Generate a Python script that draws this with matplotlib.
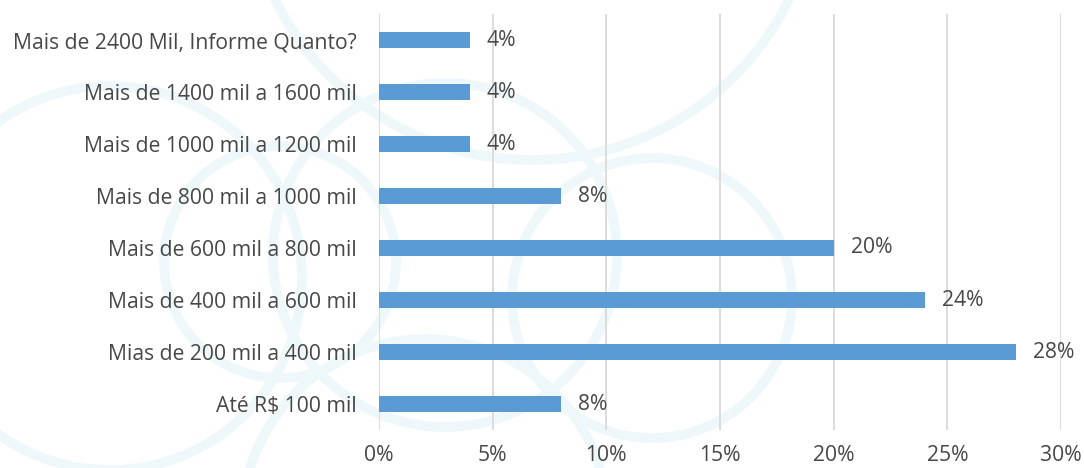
import numpy as np
import matplotlib.pyplot as plt
from matplotlib.patches import Circle

categorias = ["Até R$ 100 mil",
              "Mias de 200 mil a 400 mil",
              "Mais de 400 mil a 600 mil",
              "Mais de 600 mil a 800 mil",
              "Mais de 800 mil a 1000 mil",
              "Mais de 1000 mil a 1200 mil",
              "Mais de 1400 mil a 1600 mil",
              "Mais de 2400 Mil, Informe Quanto?"]
percentuais = [8, 28, 24, 20, 8, 4, 4, 4]
ticks_x = [0, 5, 10, 15, 20, 25, 30]

cor_barra = "#5B9BD5"
cor_texto = "#474747"
cor_grade = "#D9D9D9"
tamanho = 15.2

plt.rcParams['font.family'] = ['Open Sans', 'DejaVu Sans']

fig = plt.figure(figsize=(10.84, 4.68), dpi=100)

# marca d'agua: circulos claros ao fundo (coordenadas em pixels)
fundo = fig.add_axes([0, 0, 1, 1], zorder=0)
fundo.set_xlim(0, 1084)
fundo.set_ylim(468, 0)
fundo.axis("off")
circulos = [(280, 262, 116), (652, 298, 140), (532, -126, 286),
            (110, 278, 192), (425, 522, 183), (445, 255, 172)]
for cx, cy, r in circulos:
    fundo.add_patch(Circle((cx, cy), r, fill=False, lw=7, ec="#EEF8FB"))

ax = fig.add_axes([379 / 1084, 1 - 430 / 468, 682 / 1084, 416 / 468], zorder=1)
ax.patch.set_alpha(0)

y = np.arange(len(categorias))
ax.barh(y, percentuais, height=0.31, color=cor_barra, zorder=3)

for yi, v in zip(y, percentuais):
    ax.text(v + 0.75, yi, f"{v}%", va="center", ha="left", fontsize=tamanho, color=cor_texto)

ax.set_xlim(0, 30)
ax.set_ylim(-0.5, len(categorias) - 0.5)
ax.set_xticks(ticks_x)
ax.set_xticklabels([f"{t}%" for t in ticks_x])
ax.set_yticks(y)
ax.set_yticklabels(categorias)
ax.tick_params(axis="both", length=0, labelsize=tamanho, labelcolor=cor_texto)
ax.tick_params(axis="y", pad=16)
ax.tick_params(axis="x", pad=11)
ax.grid(axis="x", color=cor_grade, lw=1.3, zorder=0)
for s in ax.spines.values():
    s.set_visible(False)

fig.savefig("out.png", dpi=100)
